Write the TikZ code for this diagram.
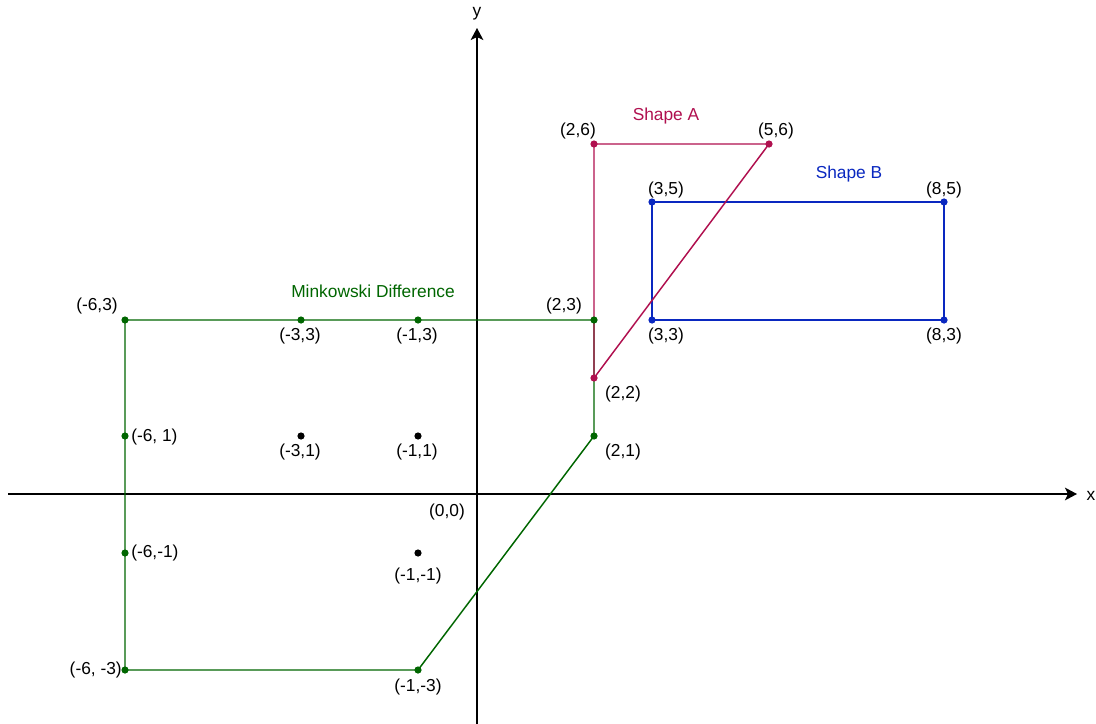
\documentclass[tikz,border=0pt]{standalone}
\usepackage{fontspec}
\setmainfont{Liberation Sans}
\usetikzlibrary{arrows.meta}
\definecolor{cA}{HTML}{B0104F}
\definecolor{cB}{HTML}{0A28C0}
\definecolor{cM}{HTML}{006600}
\tikzset{
  lbl/.style={inner sep=0pt, font=\fontsize{13pt}{15pt}\selectfont, text=black},
  axis/.style={line width=1.1pt, -{Stealth[length=9pt,width=9.5pt,inset=2.2pt]}},
  shp/.style={line width=1.1pt, line join=round},
}
\newcommand{\dotat}[2]{\fill[#1] (#2) circle[radius=2.7pt];}
\begin{document}
\begin{tikzpicture}[x=0.75pt,y=-0.75pt]
\useasboundingbox (0,0) rectangle (1096,724);
\fill[white] (0,0) rectangle (1096,724);
% grid positions (pixel columns / rows of the unit values)
\def\Xm{125}\def\Xc{301}\def\Xa{418}\def\Xb{594}\def\Xd{652}\def\Xe{769}\def\Xf{944}
\def\Yf{144}\def\Ye{202}\def\Yc{320}\def\Yb{378}\def\Ya{436}\def\Yn{553}\def\Ym{670}
% Shape A
\coordinate (a1) at (\Xb,\Yf); \coordinate (a2) at (\Xe,\Yf); \coordinate (a3) at (\Xb,\Yb);
% Shape B
\coordinate (b1) at (\Xd,\Ye); \coordinate (b2) at (\Xf,\Ye); \coordinate (b3) at (\Xf,\Yc); \coordinate (b4) at (\Xd,\Yc);
% Minkowski difference
\coordinate (m1) at (\Xm,\Yc); \coordinate (m2) at (\Xc,\Yc); \coordinate (m3) at (\Xa,\Yc); \coordinate (m4) at (\Xb,\Yc);
\coordinate (m5) at (\Xb,\Ya); \coordinate (m6) at (\Xa,\Ym); \coordinate (m7) at (\Xm,\Ym);
\coordinate (m8) at (\Xm,\Yn); \coordinate (m9) at (\Xm,\Ya);
\coordinate (k1) at (\Xc,\Ya); \coordinate (k2) at (\Xa,\Ya); \coordinate (k3) at (\Xa,\Yn);
\coordinate (xs) at (8,494); \coordinate (xe) at (1077,494);
\coordinate (ys) at (477,724); \coordinate (ye) at (477,28);
% axes
\draw[axis] (xs) -- (xe);
\draw[axis] (ys) -- (ye);
\node[lbl] (xl) at (1091,496) {x};
\node[lbl] (yl) at (477,14) {y};
% Minkowski difference polygon
\draw[shp, cM] (m1) -- (m4) -- (m5) -- (m6) -- (m7) -- cycle;
% Shape B
\draw[shp, cB] (b1) -- (b2) -- (b3) -- (b4) -- cycle;
% Shape A
\draw[shp, cA] (a1) -- (a2) -- (a3) -- cycle;
% dots
\foreach \p in {m1,m2,m3,m4,m5,m6,m7,m8,m9} {\dotat{cM}{\p}}
\foreach \p in {k1,k2,k3} {\dotat{black}{\p}}
\foreach \p in {b1,b2,b3,b4} {\dotat{cB}{\p}}
\foreach \p in {a1,a2,a3} {\dotat{cA}{\p}}
% titles
\node[lbl, text=cA] (tA) at (666,116) {Shape A};
\node[lbl, text=cB] (tB) at (849,174) {Shape B};
\node[lbl, text=cM] (tM) at (373,291) {Minkowski Difference};
% labels
\node[lbl] (la1) at (578,131) {(2,6)};
\node[lbl] (la2) at (776,131) {(5,6)};
\node[lbl] (lb1) at (666,190) {(3,5)};
\node[lbl] (lb2) at (944,190) {(8,5)};
\node[lbl] (lb4) at (666,336) {(3,3)};
\node[lbl] (lb3) at (944,336) {(8,3)};
\node[lbl] (lm4) at (564,306) {(2,3)};
\node[lbl] (la3) at (623,394) {(2,2)};
\node[lbl] (lm5) at (623,452) {(2,1)};
\node[lbl] (lm1) at (97,306) {(-6,3)};
\node[lbl] (lm2) at (300,336) {(-3,3)};
\node[lbl] (lm3) at (417,336) {(-1,3)};
\node[lbl, anchor=west] (lm9) at (131,437) {(-6, 1)};
\node[lbl, anchor=west] (lm8) at (131,553) {(-6,-1)};
\node[lbl, anchor=east] (lm7) at (122,670) {(-6, -3)};
\node[lbl] (lm6) at (418,687) {(-1,-3)};
\node[lbl] (lk1) at (300,452) {(-3,1)};
\node[lbl] (lk2) at (417,452) {(-1,1)};
\node[lbl] (lk3) at (418,576) {(-1,-1)};
\node[lbl] (lO) at (447,512) {(0,0)};
\end{tikzpicture}
\end{document}
